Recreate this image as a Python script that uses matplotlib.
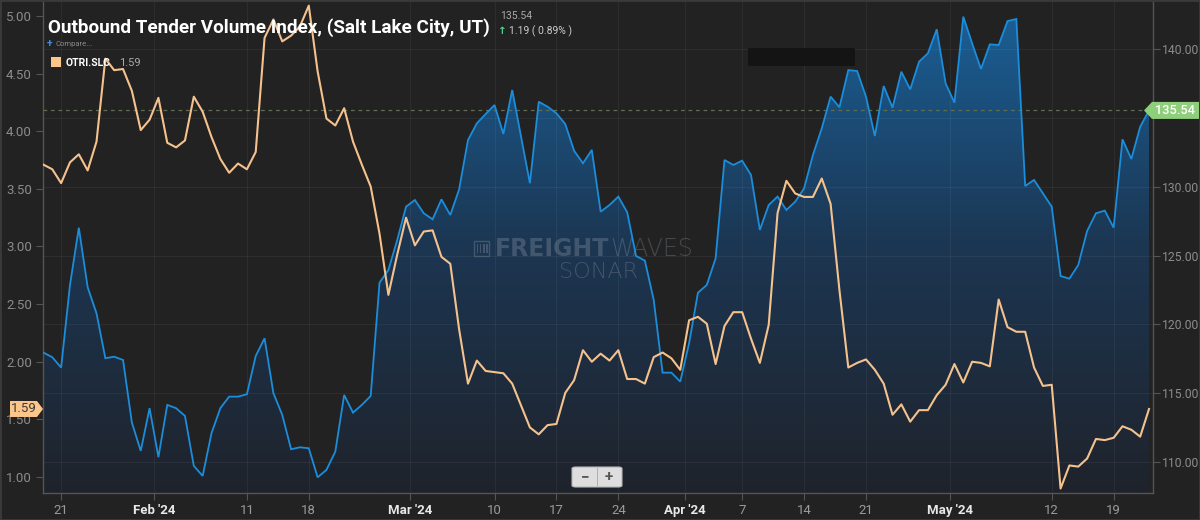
import matplotlib
matplotlib.use("Agg")
import matplotlib.pyplot as plt
import matplotlib.dates as mdates
from matplotlib.patches import Polygon, Rectangle, FancyBboxPatch
from matplotlib.colors import LinearSegmentedColormap
import numpy as np
import pandas as pd

# ---------------- data ----------------
start_date = "2024-01-19"
otri_slc = [3.71, 3.67, 3.55, 3.73, 3.80, 3.66, 3.91, 4.63, 4.53, 4.54,
            4.35, 4.01, 4.10, 4.29, 3.90, 3.86, 3.92, 4.30, 4.17, 3.95,
            3.76, 3.64, 3.72, 3.67, 3.82, 4.81, 4.97, 4.78, 4.83, 4.91,
            5.09, 4.52, 4.11, 4.05, 4.20, 3.91, 3.71, 3.52, 3.11, 2.58,
            2.93, 3.25, 3.01, 3.13, 3.14, 2.91, 2.85, 2.28, 1.81, 2.01,
            1.92, 1.91, 1.90, 1.81, 1.62, 1.43, 1.37, 1.45, 1.46, 1.73,
            1.84, 2.10, 2.00, 2.07, 2.01, 2.10, 1.85, 1.85, 1.81, 2.04,
            2.08, 2.03, 1.93, 2.36, 2.39, 2.33, 1.98, 2.31, 2.43, 2.43,
            2.20, 1.99, 2.32, 3.29, 3.57, 3.46, 3.43, 3.43, 3.59, 3.37,
            2.62, 1.95, 1.99, 2.02, 1.93, 1.81, 1.54, 1.63, 1.48, 1.58,
            1.58, 1.71, 1.80, 1.98, 1.82, 2.00, 1.99, 1.96, 2.54, 2.30,
            2.26, 2.26, 1.95, 1.79, 1.80, 0.90, 1.10, 1.09, 1.16, 1.33,
            1.32, 1.34, 1.44, 1.41, 1.35, 1.59]
otvi_slc = [117.95, 117.61, 116.86, 122.86, 127.02, 122.69, 120.80, 117.54, 117.65, 117.41,
            112.86, 110.81, 113.91, 110.35, 114.15, 113.91, 113.35, 109.72, 108.99, 112.09,
            113.91, 114.75, 114.75, 114.92, 117.70, 118.99, 115.00, 113.42, 110.93, 111.07,
            111.00, 108.89, 109.43, 110.76, 114.87, 113.59, 114.15, 114.80, 123.03, 123.95,
            126.13, 128.55, 129.03, 128.07, 127.63, 129.08, 127.94, 129.81, 133.39, 134.60,
            135.28, 135.93, 133.83, 137.02, 133.63, 130.25, 136.17, 135.81, 135.33, 134.55,
            132.61, 131.70, 132.67, 128.18, 128.67, 129.28, 128.14, 124.97, 124.63, 121.77,
            116.49, 116.49, 115.84, 118.63, 122.30, 122.86, 124.80, 131.94, 131.58, 131.89,
            130.85, 126.86, 128.67, 129.28, 128.31, 128.91, 129.88, 132.30, 134.24, 136.54,
            135.77, 138.47, 138.40, 136.54, 133.68, 137.31, 135.74, 138.35, 137.07, 139.08,
            139.69, 141.43, 137.51, 136.10, 142.35, 140.41, 138.55, 140.34, 140.29, 142.03,
            142.18, 130.05, 130.49, 129.52, 128.55, 123.51, 123.32, 124.31, 126.78, 128.07,
            128.26, 127.02, 133.44, 132.01, 134.35, 135.54]

month_ticks = ["2024-02-01", "2024-03-01", "2024-04-01", "2024-05-01"]
month_labels = ["Feb '24", "Mar '24", "Apr '24", "May '24"]
day_ticks = ["2024-01-21", "2024-02-11", "2024-02-18", "2024-03-10", "2024-03-17",
             "2024-03-24", "2024-04-07", "2024-04-14", "2024-04-21", "2024-05-12",
             "2024-05-19"]
day_labels = ["21", "11", "18", "10", "17", "24", "7", "14", "21", "12", "19"]
left_ticks = [1.00, 1.50, 2.00, 2.50, 3.00, 3.50, 4.00, 4.50, 5.00]
right_ticks = [110, 115, 120, 125, 130, 135, 140]

title = "Outbound Tender Volume Index, (Salt Lake City, UT)"
series_name = "OTRI.SLC"
last_volume = 135.54
change_abs = 1.19
change_pct = 0.89
last_otri = 1.59

# ---------------- style ----------------
W, H = 1200, 520
BG = "#222222"
BLUE = "#1b8ddb"
ORANGE = "#f5c28e"
TAG_ORANGE = "#fcc58a"
TAG_GREEN = "#8fcf7c"
SPINE = "#555555"
TICK_TXT = "#8c8c8c"

plt.rcParams["font.family"] = ["Roboto", "DejaVu Sans"]

def fx(x):
    return x / W

def fy(y):
    return 1 - y / H

fig = plt.figure(figsize=(W / 100, H / 100), dpi=100, facecolor=BG)
ax = fig.add_axes([fx(43), fy(493), (1153 - 43) / W, 493 / H])
ax.set_facecolor(BG)
axo = ax.twinx()

dates = pd.date_range(start_date, periods=len(otri_slc), freq="D")
xd = mdates.date2num(dates)
x_left = xd[0] - 0.05
x_right = xd[-1] + 0.45
r_lo, r_hi = 107.75, 143.56
l_lo, l_hi = 0.861, 5.139

# blue area with vertical gradient
coll = ax.fill_between(xd, otvi_slc, r_lo, facecolor="none", edgecolor="none")
clip_path = coll.get_paths()[0]
grad = np.linspace(0, 1, 256).reshape(-1, 1)
cmap = LinearSegmentedColormap.from_list("fill", ["#1f232b", "#1c3652", "#1a6199"])
im = ax.imshow(grad, extent=[x_left, x_right, r_lo, r_hi], origin="lower",
               aspect="auto", cmap=cmap, zorder=1, interpolation="bilinear")
im.set_clip_path(clip_path, ax.transData)
ax.plot(xd, otvi_slc, color=BLUE, lw=1.3, zorder=3, solid_joinstyle="miter")

# dashed last-value line
ax.axhline(last_volume, color="#5f6e50", lw=0.9, ls=(0, (3, 3)), zorder=2.8)

# orange line
axo.plot(xd, otri_slc, color=ORANGE, lw=1.5, zorder=4)

ax.set_xlim(x_left, x_right)
ax.set_ylim(r_lo, r_hi)
axo.set_ylim(l_lo, l_hi)

# ticks
month_pos = list(mdates.date2num(pd.to_datetime(month_ticks)) - 0.5)
day_pos = list(mdates.date2num(pd.to_datetime(day_ticks)))
ax.set_xticks(month_pos + day_pos)
ax.set_xticklabels(month_labels + day_labels)
for i, lab in enumerate(ax.get_xticklabels()):
    if i < len(month_labels):
        lab.set_color("#e8e8e8")
        lab.set_fontweight("bold")
    else:
        lab.set_color("#9a9a9a")

# the 135.00 label is hidden behind the last-value tag in the reference
ax.set_yticks(right_ticks)
ax.set_yticklabels(["" if abs(v - last_volume) < 2 else f"{v:.2f}" for v in right_ticks])
axo.set_yticks(left_ticks)
axo.set_yticklabels([f"{v:.2f}" for v in left_ticks])

ax.yaxis.set_ticks_position("right")
axo.yaxis.set_ticks_position("left")
ax.tick_params(axis="x", length=5, width=0.8, color=SPINE, labelsize=9.5, pad=3)
ax.tick_params(axis="y", length=5, width=0.8, color=SPINE, labelcolor=TICK_TXT,
               labelsize=8.7, pad=1.5, right=True, left=False, labelright=True, labelleft=False)
axo.tick_params(axis="y", length=5, width=0.8, color=SPINE, labelcolor=TICK_TXT,
                labelsize=9.5, pad=3, left=True, right=False, labelleft=True, labelright=False)

ax.grid(True, axis="both", color="#ffffff", alpha=0.05, lw=0.8)
ax.set_axisbelow(False)
for g in ax.get_xgridlines() + ax.get_ygridlines():
    g.set_zorder(2.5)

for s in ["left", "bottom", "right"]:
    ax.spines[s].set_color(SPINE)
    ax.spines[s].set_linewidth(1.0)
ax.spines["top"].set_visible(False)
for s in axo.spines.values():
    s.set_visible(False)

# ---------------- value tags ----------------
fig.canvas.draw()
renderer = fig.canvas.get_renderer()
yg = H - ax.transData.transform((x_left, last_volume))[1]
green_tag = Polygon([(fx(1144), fy(yg)), (fx(1152), fy(yg - 8.5)), (fx(1199), fy(yg - 8.5)),
                     (fx(1199), fy(yg + 8.5)), (fx(1152), fy(yg + 8.5))],
                    closed=True, transform=fig.transFigure, facecolor=TAG_GREEN,
                    edgecolor="none", zorder=10)
fig.add_artist(green_tag)
fig.text(fx(1175.5), fy(yg), f"{last_volume:.2f}", color="white", fontsize=9.2,
         fontweight="medium", ha="center", va="center", zorder=11)

yo = H - axo.transData.transform((x_left, last_otri))[1]
orange_tag = Polygon([(fx(10), fy(yo - 8)), (fx(37), fy(yo - 8)), (fx(43), fy(yo)),
                      (fx(37), fy(yo + 8)), (fx(10), fy(yo + 8))],
                     closed=True, transform=fig.transFigure, facecolor=TAG_ORANGE,
                     edgecolor="none", zorder=10)
fig.add_artist(orange_tag)
fig.text(fx(24), fy(yo), f"{last_otri:.2f}", color="#3a3a3a", fontsize=9.5,
         ha="center", va="center", zorder=11)

# ---------------- header texts ----------------
fig.text(fx(48), fy(28), title, color="white", fontsize=13.6, fontweight="bold",
         ha="left", va="center", zorder=12)
fig.text(fx(500), fy(16), f"{last_volume:.2f}", color="#aaaaaa", fontsize=7.5,
         ha="left", va="center", zorder=12)
fig.text(fx(502), fy(31), "↑", color="#4cd68a", fontsize=7.5, fontweight="bold",
         ha="center", va="center", zorder=12, family=["DejaVu Sans"])
fig.text(fx(509), fy(31), f"{change_abs:.2f} ( {change_pct:.2f}% )", color="#cccccc",
         fontsize=7.5, ha="left", va="center", zorder=12)
fig.text(fx(50), fy(44.5), "+", color="#3a8ee6", fontsize=7.5, fontweight="bold",
         ha="center", va="center", zorder=12)
fig.text(fx(56), fy(44), "Compare...", color="#8a8a8a", fontsize=5.5,
         ha="left", va="center", zorder=12)
fig.add_artist(Rectangle((fx(51), fy(67)), 9.5 / W, 9.5 / H, transform=fig.transFigure,
                         facecolor=TAG_ORANGE, edgecolor="none", zorder=12))
fig.text(fx(66), fy(63), series_name, color="white", fontsize=7.5, fontweight="bold",
         ha="left", va="center", zorder=12)
fig.text(fx(119), fy(63), f"{last_otri:.2f}", color="#aaaaaa", fontsize=8,
         ha="left", va="center", zorder=12)

# dark box
fig.add_artist(FancyBboxPatch((fx(748), fy(66)), 107 / W, 18 / H,
                              boxstyle="round,pad=0,rounding_size=0.002",
                              transform=fig.transFigure, facecolor="#141414",
                              edgecolor="none", zorder=12))

# ---------------- watermark ----------------
wm = "#9aa4b0"
lx, ly = 474, 241
fig.add_artist(Rectangle((fx(lx), fy(ly + 15)), 15 / W, 15 / H, transform=fig.transFigure,
                         facecolor="none", edgecolor=wm, lw=1.0, alpha=0.3, zorder=5))
for k in range(4):
    fig.add_artist(Rectangle((fx(lx + 3 + 3 * k), fy(ly + 12)), 1.5 / W, 9 / H,
                             transform=fig.transFigure, facecolor=wm, edgecolor="none",
                             alpha=0.3, zorder=5))
t_fr = fig.text(fx(495), fy(249), "FREIGHT", color=wm, alpha=0.3, fontsize=17,
                fontweight="bold", ha="left", va="center", family=["DejaVu Sans"], zorder=5)
bb = t_fr.get_window_extent(renderer=renderer)
fig.text(bb.x1 / W + 1 / W, fy(249), "WAVES", color=wm, alpha=0.3, fontsize=17,
         fontweight="light", ha="left", va="center", family=["DejaVu Sans"], zorder=5)
fig.text(fx(599), fy(272), "SONAR", color=wm, alpha=0.3, fontsize=16,
         fontweight="light", ha="center", va="center", family=["DejaVu Sans"], zorder=5)

# ---------------- zoom buttons ----------------
fig.add_artist(FancyBboxPatch((fx(572), fy(487)), 50 / W, 20 / H,
                              boxstyle="round,pad=0,rounding_size=0.003",
                              transform=fig.transFigure, facecolor="#dedede",
                              edgecolor="#b5b5b5", lw=0.8, zorder=12))
fig.add_artist(Rectangle((fx(597), fy(486)), 0.8 / W, 18 / H, transform=fig.transFigure,
                         facecolor="#b0b0b0", edgecolor="none", zorder=13))
fig.text(fx(585), fy(477), "−", color="#555555", fontsize=11, fontweight="bold",
         ha="center", va="center", zorder=13)
fig.text(fx(609), fy(477), "+", color="#555555", fontsize=11, fontweight="bold",
         ha="center", va="center", zorder=13)

# frame border
fig.add_artist(Rectangle((0, 0), 1, 1, transform=fig.transFigure, fill=False,
                         edgecolor="#3a3a3a", lw=2, zorder=20))

fig.savefig("out.png", dpi=100, facecolor=BG)
